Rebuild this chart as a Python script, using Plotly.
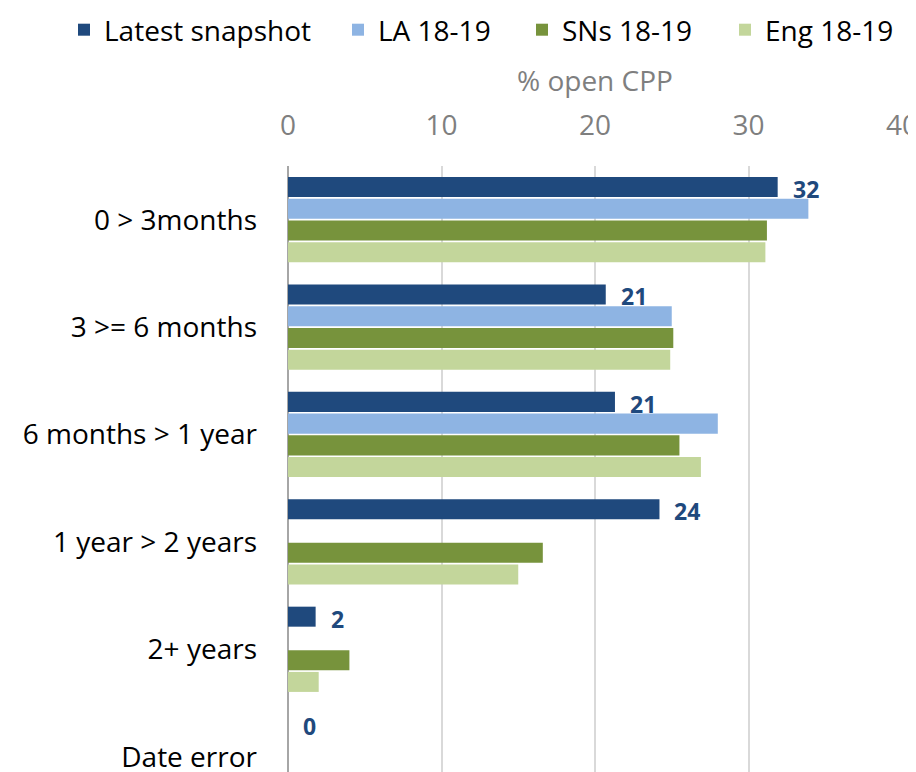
import plotly.graph_objects as go

categories = ["0 > 3months", "3 >= 6 months", "6 months > 1 year", "1 year > 2 years", "2+ years", "Date error"]
latest = [31.9, 20.7, 21.3, 24.2, 1.8, 0]
la = [33.9, 25.0, 28.0, None, None, None]
sns = [31.2, 25.1, 25.5, 16.6, 4.0, None]
eng = [31.1, 24.9, 26.9, 15.0, 2.0, None]
latest_labels = ["32", "21", "21", "24", "2", "0"]
axis_title = "% open CPP"

series = [
    ("Latest snapshot", latest, "#1F497D"),
    ("LA 18-19", la, "#8EB4E3"),
    ("SNs 18-19", sns, "#77933C"),
    ("Eng 18-19", eng, "#C3D69B"),
]
legend_ids = ["legend", "legend2", "legend3", "legend4"]
legend_x_px = [56, 330, 514, 717]

FONT = "Open Sans"
W, H = 916, 772
fig = go.Figure()
for (name, vals, col), lid in zip(series, legend_ids):
    fig.add_trace(go.Bar(
        y=categories, x=vals, name=name, orientation="h", legend=lid,
        showlegend=True,
        marker=dict(color=col, line=dict(width=0)),
    ))

bargap = 0.19
slot = (1 - bargap) / 4
for i, (v, lab) in enumerate(zip(latest, latest_labels)):
    fig.add_annotation(
        x=v, y=i - (1 - bargap) / 2 + slot / 2, xref="x", yref="y",
        text="<b>" + lab + "</b>", showarrow=False, xanchor="left", yanchor="middle",
        xshift=13, yshift=-2, font=dict(family=FONT, size=23, color="#1F497D"),
    )

fig.add_annotation(
    x=0.5, y=1, xref="paper", yref="paper", text=axis_title, showarrow=False,
    xanchor="center", yanchor="middle", yshift=86,
    font=dict(family=FONT, size=28, color="#7F7F7F"),
)

legends = {}
for lid, lx in zip(legend_ids, legend_x_px):
    legends[lid] = dict(orientation="h", x=lx / W, xref="container", xanchor="left",
                        y=1 - 22 / H, yref="container", yanchor="middle",
                        bgcolor="rgba(0,0,0,0)",
                        font=dict(family=FONT, size=28, color="#000000"),
                        itemwidth=30)

fig.update_layout(
    width=W, height=H, showlegend=True,
    margin=dict(l=280, r=22, t=158, b=0, autoexpand=False),
    plot_bgcolor="white", paper_bgcolor="white",
    barmode="group", bargap=bargap, bargroupgap=0.08,
    font=dict(family=FONT, size=28, color="#000000"),
    xaxis=dict(side="top", range=[0, 40], dtick=10, showgrid=True,
               gridcolor="#D9D9D9", gridwidth=1.5, automargin=False,
               zeroline=True, zerolinecolor="#A6A6A6", zerolinewidth=2,
               tickfont=dict(family=FONT, size=28, color="#7F7F7F"),
               ticklabelstandoff=24),
    yaxis=dict(type="category", categoryorder="array", categoryarray=categories,
               range=[5.217, -0.5], showgrid=False, zeroline=False, automargin=False,
               ticklabelstandoff=30,
               tickfont=dict(family=FONT, size=28, color="#000000")),
    **legends,
)

fig.write_html("out.html")
